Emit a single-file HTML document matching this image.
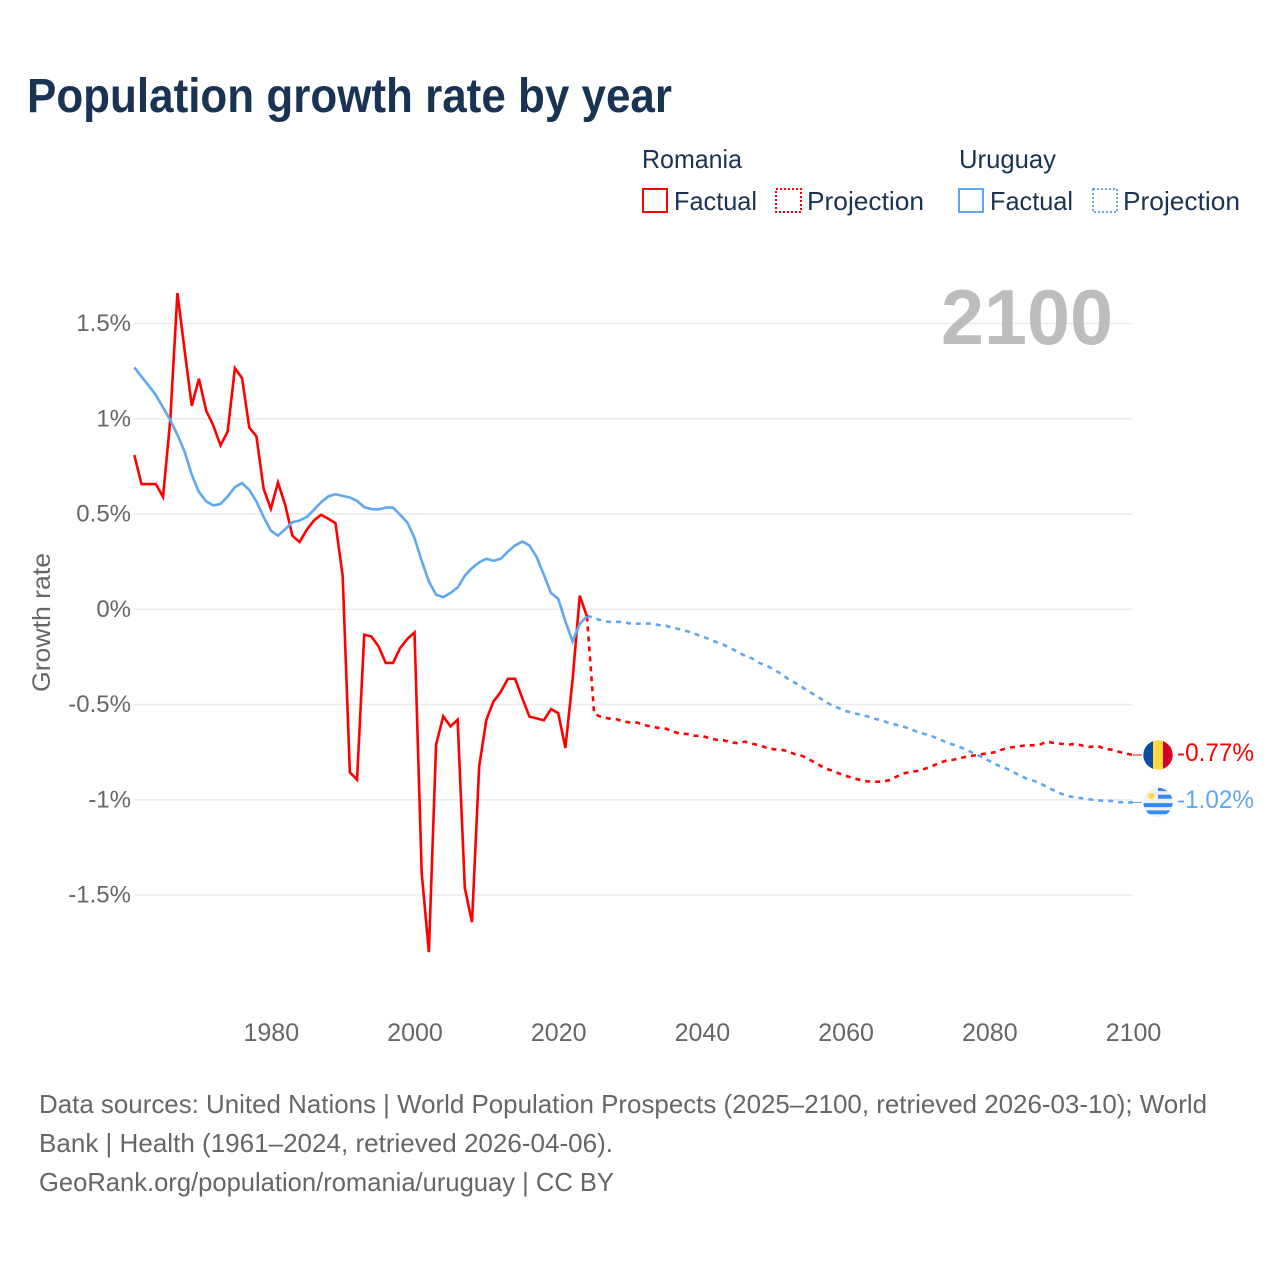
<!DOCTYPE html>
<html lang="en">
<head>
<meta charset="utf-8">
<title>Population growth rate by year</title>
<style>
html,body{margin:0;padding:0;background:#fff;width:1280px;height:1280px;overflow:hidden}
svg{display:block}
text{font-family:"Liberation Sans",sans-serif}
</style>
</head>
<body>
<svg id="chart" width="1280" height="1280" viewBox="0 0 1280 1280" xmlns="http://www.w3.org/2000/svg">
  <defs>
    <clipPath id="flag-clip-ro"><circle cx="0" cy="0" r="14.7"/></clipPath>
    <clipPath id="flag-clip-uy"><circle cx="0" cy="0" r="14.7"/></clipPath>
  </defs>
  <text x="27" y="112" font-size="48" font-weight="700" fill="#1a3353" textLength="645" lengthAdjust="spacingAndGlyphs">Population growth rate by year</text>

  <g font-size="26" fill="#1a3353">
    <text x="642" y="168" textLength="100" lengthAdjust="spacingAndGlyphs">Romania</text>
    <g>
      <rect x="643" y="189" width="24" height="23" fill="none" stroke="#ff0000" stroke-width="2"/>
      <text x="674" y="210" textLength="83" lengthAdjust="spacingAndGlyphs">Factual</text>
    </g>
    <g>
      <rect x="776" y="189" width="25" height="23" fill="none" stroke="#ff0000" stroke-width="2" stroke-dasharray="2 2"/>
      <text x="807" y="210" textLength="117" lengthAdjust="spacingAndGlyphs">Projection</text>
    </g>
    <text x="959" y="168" textLength="97" lengthAdjust="spacingAndGlyphs">Uruguay</text>
    <g>
      <rect x="959" y="189" width="24" height="23" fill="none" stroke="#5fa8f0" stroke-width="2"/>
      <text x="990" y="210" textLength="83" lengthAdjust="spacingAndGlyphs">Factual</text>
    </g>
    <g>
      <rect x="1093" y="189" width="24" height="23" fill="none" stroke="#5fa8f0" stroke-width="2" stroke-dasharray="2 2"/>
      <text x="1123" y="210" textLength="117" lengthAdjust="spacingAndGlyphs">Projection</text>
    </g>
  </g>

  <g id="grid"></g>
  <text x="941" y="344" font-size="78" font-weight="700" fill="#bdbdbd" textLength="172" lengthAdjust="spacingAndGlyphs">2100</text>
  <g id="y-axis"></g>
  <g id="x-axis"></g>
  <text transform="translate(50,692) rotate(-90)" font-size="25" fill="#666666" textLength="139" lengthAdjust="spacingAndGlyphs">Growth rate</text>
  <g id="series"></g>

  <g id="flag-ro">
    <g clip-path="url(#flag-clip-ro)">
      <rect x="-15" y="-15" width="10" height="30" fill="#0a4ea2"/>
      <rect x="-5" y="-15" width="10" height="30" fill="#ffd83d"/>
      <rect x="5" y="-15" width="10" height="30" fill="#d80027"/>
    </g>
  </g>
  <g id="flag-uy">
    <g clip-path="url(#flag-clip-uy)">
      <rect x="-15" y="-15" width="30" height="30" fill="#f0f0f0"/>
      <rect x="0" y="-15" width="15" height="3.7" fill="#338af3"/>
      <rect x="0" y="-7.7" width="15" height="4" fill="#338af3"/>
      <rect x="-15" y="0.7" width="30" height="4" fill="#338af3"/>
      <rect x="-15" y="8" width="30" height="3.8" fill="#338af3"/>
      <circle cx="-6.6" cy="-6.4" r="3.2" fill="#ffda44"/>
    </g>
  </g>
  <g id="end-labels"></g>

  <g font-size="26" fill="#666666">
    <text x="39" y="1113" textLength="1168" lengthAdjust="spacingAndGlyphs">Data sources: United Nations | World Population Prospects (2025–2100, retrieved 2026-03-10); World</text>
    <text x="39" y="1152" textLength="574" lengthAdjust="spacingAndGlyphs">Bank | Health (1961–2024, retrieved 2026-04-06).</text>
    <text x="39" y="1191" textLength="575" lengthAdjust="spacingAndGlyphs">GeoRank.org/population/romania/uruguay | CC BY</text>
  </g>
</svg>
<script>
const factualStartYear = 1961;
const projectionStartYear = 2024;

const romaniaFactual = [
  0.81, 0.657, 0.657, 0.657, 0.59, 0.99, 1.66, 1.36, 1.068, 1.21,
  1.043, 0.964, 0.86, 0.933, 1.265, 1.213, 0.954, 0.907, 0.632, 0.527,
  0.665, 0.548, 0.386, 0.353, 0.417, 0.466, 0.496, 0.475, 0.452, 0.176,
  -0.856, -0.895, -0.134, -0.143, -0.195, -0.282, -0.282, -0.204, -0.156, -0.122,
  -1.384, -1.80, -0.711, -0.562, -0.615, -0.58, -1.463, -1.643, -0.825, -0.58,
  -0.484, -0.434, -0.365, -0.365, -0.466, -0.564, -0.573, -0.583, -0.524, -0.545,
  -0.728, -0.37, 0.071, -0.038
];

const uruguayFactual = [
  1.27, 1.221, 1.174, 1.125, 1.059, 0.994, 0.916, 0.828, 0.706, 0.615,
  0.566, 0.545, 0.553, 0.592, 0.641, 0.662, 0.627, 0.566, 0.484, 0.413,
  0.386, 0.42, 0.457, 0.466, 0.484, 0.522, 0.562, 0.592, 0.604, 0.595,
  0.587, 0.569, 0.536, 0.526, 0.524, 0.534, 0.534, 0.496, 0.455, 0.374,
  0.254, 0.146, 0.076, 0.064, 0.085, 0.114, 0.176, 0.216, 0.246, 0.265,
  0.254, 0.265, 0.303, 0.335, 0.356, 0.335, 0.274, 0.181, 0.085, 0.055,
  -0.064, -0.169, -0.076, -0.038
];

const romaniaProjection = [
  -0.038, -0.548, -0.566, -0.573, -0.576, -0.589, -0.594, -0.595, -0.608, -0.616,
  -0.623, -0.627, -0.643, -0.653, -0.655, -0.664, -0.665, -0.676, -0.685, -0.688,
  -0.697, -0.704, -0.695, -0.706, -0.714, -0.727, -0.735, -0.737, -0.746, -0.762,
  -0.77, -0.79, -0.81, -0.833, -0.846, -0.861, -0.874, -0.886, -0.896, -0.903,
  -0.905, -0.905, -0.898, -0.88, -0.863, -0.854, -0.849, -0.838, -0.825, -0.807,
  -0.795, -0.79, -0.781, -0.772, -0.767, -0.76, -0.755, -0.749, -0.734, -0.725,
  -0.721, -0.714, -0.714, -0.711, -0.695, -0.702, -0.706, -0.711, -0.706, -0.716,
  -0.723, -0.716, -0.732, -0.737, -0.748, -0.757, -0.765
];

const uruguayProjection = [
  -0.034, -0.046, -0.059, -0.066, -0.066, -0.066, -0.075, -0.076, -0.075, -0.075,
  -0.083, -0.087, -0.097, -0.106, -0.116, -0.129, -0.143, -0.156, -0.172, -0.186,
  -0.204, -0.225, -0.244, -0.258, -0.282, -0.295, -0.317, -0.338, -0.366, -0.387,
  -0.41, -0.434, -0.457, -0.48, -0.503, -0.518, -0.534, -0.545, -0.553, -0.562,
  -0.575, -0.583, -0.597, -0.606, -0.615, -0.629, -0.644, -0.655, -0.667, -0.681,
  -0.699, -0.711, -0.725, -0.741, -0.76, -0.775, -0.796, -0.816, -0.83, -0.847,
  -0.868, -0.886, -0.898, -0.912, -0.933, -0.951, -0.968, -0.982, -0.987, -0.993,
  -0.998, -1.003, -1.005, -1.006, -1.012, -1.014, -1.014
];

const yTickValues = [1.5, 1, 0.5, 0, -0.5, -1, -1.5];
const yTickLabels = ["1.5%", "1%", "0.5%", "0%", "-0.5%", "-1%", "-1.5%"];
const xTickYears = [1980, 2000, 2020, 2040, 2060, 2080, 2100];
const endLabels = ["-0.77%", "-1.02%"];

const NS = "http://www.w3.org/2000/svg";
const xLeft = 134.3, xRight = 1133, yearMin = 1961, yearMax = 2100;
const xScale = function (year) { return xLeft + (year - yearMin) * (xRight - xLeft) / (yearMax - yearMin); };
const yScale = function (v) { return 609.25 - v * 190.5; };

function make(tag, attrs, parent) {
  const el = document.createElementNS(NS, tag);
  for (const k in attrs) el.setAttribute(k, attrs[k]);
  parent.appendChild(el);
  return el;
}

function linePath(values, startYear) {
  return values.map(function (v, i) {
    return (i ? "L" : "M") + xScale(startYear + i).toFixed(2) + " " + yScale(v).toFixed(2);
  }).join(" ");
}

const gridGroup = document.getElementById("grid");
const yAxisGroup = document.getElementById("y-axis");
yTickValues.forEach(function (v, i) {
  const line = make("line", { x1: xLeft, x2: xRight, y1: yScale(v), y2: yScale(v), stroke: "#ebebeb", "stroke-width": 1.6 }, gridGroup);
  
  
  const label = make("text", { x: 131, y: yScale(v) + 7.5, "text-anchor": "end", "font-size": 24, fill: "#666666" }, yAxisGroup);
  
  
  label.textContent = yTickLabels[i];
});

const xAxisGroup = document.getElementById("x-axis");
xTickYears.forEach(function (year) {
  const label = make("text", { x: xScale(year) + 0.5, y: 1041, "text-anchor": "middle", "font-size": 25, fill: "#666666" }, xAxisGroup);
  
  
  label.textContent = String(year);
});

const seriesGroup = document.getElementById("series");
const red = "#ff0000", blue = "#5fa8f0";

const romaniaProjLine = make("path", { d: linePath(romaniaProjection, projectionStartYear), fill: "none", stroke: red, "stroke-width": 2.6, "stroke-dasharray": "5 5" }, seriesGroup);



const uruguayProjLine = make("path", { d: linePath(uruguayProjection, projectionStartYear), fill: "none", stroke: blue, "stroke-width": 2.6, "stroke-dasharray": "5 5" }, seriesGroup);



const romaniaLine = make("path", { d: linePath(romaniaFactual, factualStartYear), fill: "none", stroke: red, "stroke-width": 2.6, "stroke-linejoin": "miter" }, seriesGroup);



const uruguayLine = make("path", { d: linePath(uruguayFactual, factualStartYear), fill: "none", stroke: blue, "stroke-width": 2.6 }, seriesGroup);



const roEnd = romaniaProjection[romaniaProjection.length - 1];
const uyEnd = uruguayProjection[uruguayProjection.length - 1];
const flagX = xScale(yearMax) + 25;
document.getElementById("flag-ro").setAttribute("transform", "translate(" + flagX + "," + yScale(roEnd) + ")");
document.getElementById("flag-uy").setAttribute("transform", "translate(" + flagX + "," + yScale(uyEnd) + ")");

const labelGroup = document.getElementById("end-labels");

const roConnector = make("line", { x1: xRight, x2: flagX - 16, y1: yScale(roEnd), y2: yScale(roEnd), stroke: red, "stroke-width": 1 }, labelGroup);



const uyConnector = make("line", { x1: xRight, x2: flagX - 16, y1: yScale(uyEnd), y2: yScale(uyEnd), stroke: blue, "stroke-width": 1 }, labelGroup);



const roLabel = make("text", { x: 1177, y: yScale(roEnd) + 6, "font-size": 25, fill: red, textLength: 77, lengthAdjust: "spacingAndGlyphs" }, labelGroup);


roLabel.textContent = endLabels[0];

const uyLabel = make("text", { x: 1177, y: yScale(uyEnd) + 5.5, "font-size": 25, fill: blue, textLength: 77, lengthAdjust: "spacingAndGlyphs" }, labelGroup);


uyLabel.textContent = endLabels[1];
</script>
</body>
</html>
